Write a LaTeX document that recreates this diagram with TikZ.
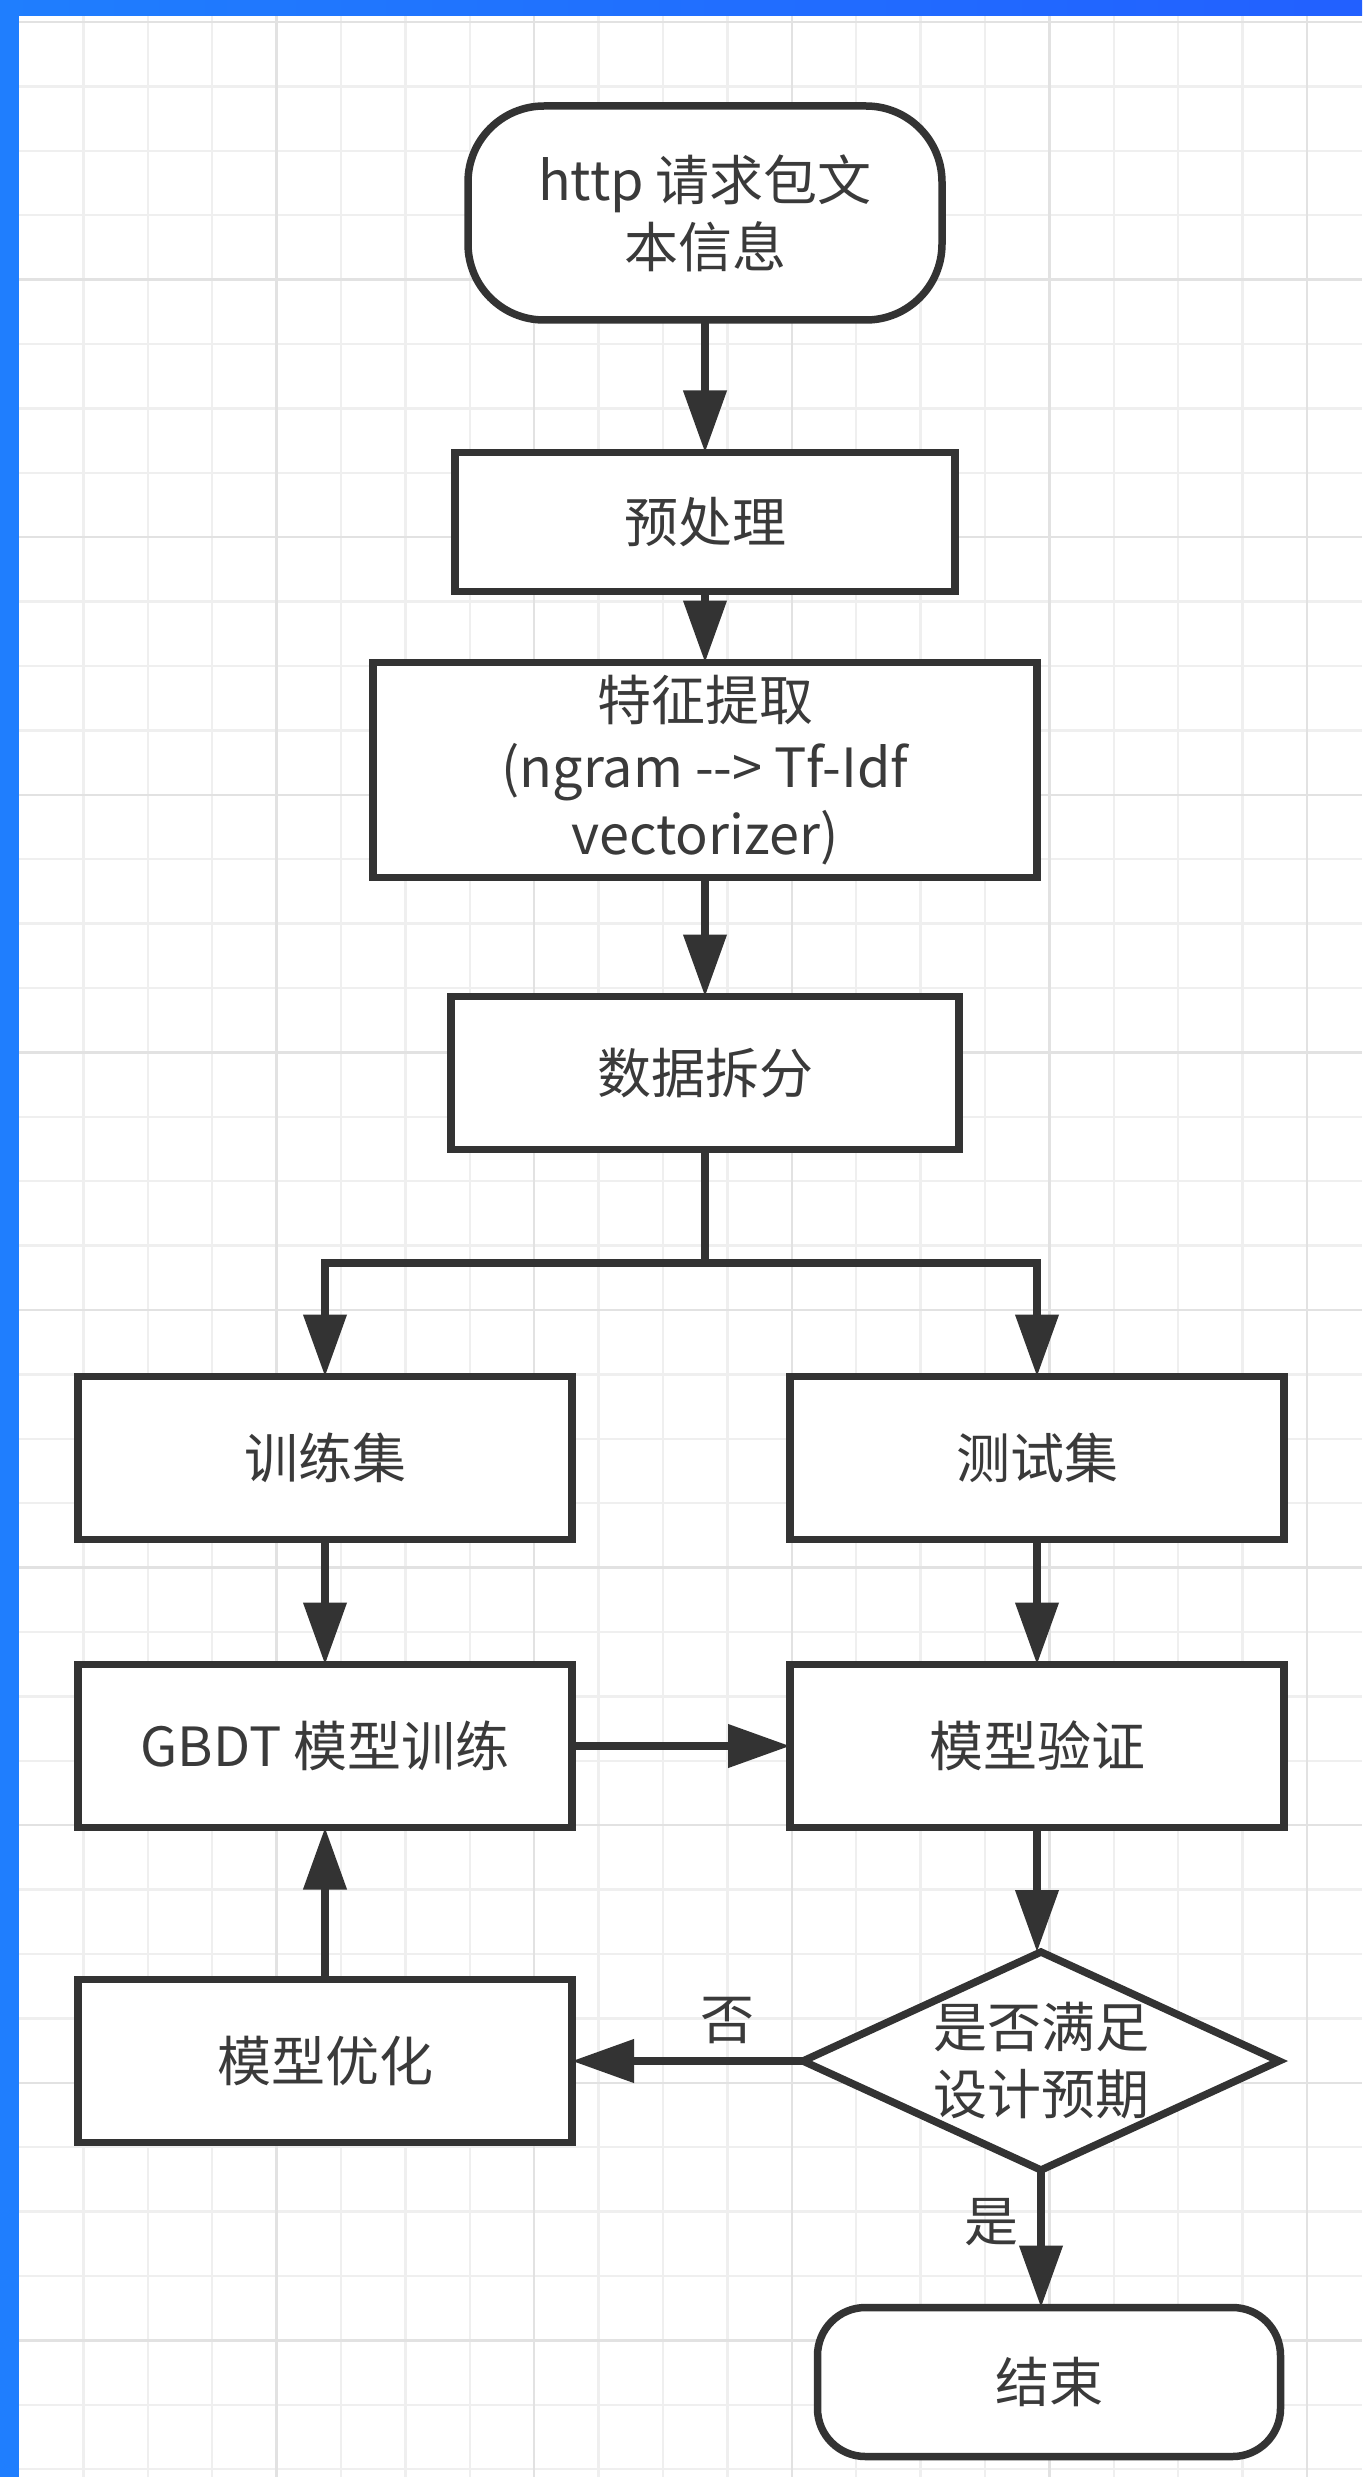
\documentclass[tikz,border=0pt]{standalone}
\usepackage{fontspec}
\setmainfont{Noto Sans CJK SC}
\usetikzlibrary{arrows.meta,shapes.geometric}
\definecolor{linec}{HTML}{333333}
\definecolor{textc}{HTML}{3A3A3A}
\definecolor{gminorc}{HTML}{EFEFEF}
\definecolor{gmajorc}{HTML}{E2E2E2}
\definecolor{blueL}{HTML}{1F7EFE}
\definecolor{blueR}{HTML}{2260FF}
\newcommand\myfs{\fontsize{27pt}{33.5pt}\selectfont}
\tikzset{
  box/.style={draw=linec, line width=3.75pt, fill=white, inner sep=0pt, outer sep=0pt,
    align=center, text=textc, font=\myfs},
  term/.style={box, rounded corners=#1},
  conn/.style={draw=linec, line width=3.75pt},
  arr/.style={conn, -{Triangle[length=31pt,width=21pt]}},
  lbl/.style={text=textc, font=\myfs, inner sep=0pt},
  gminor/.style={draw=gminorc, line width=1.25pt},
  gmajor/.style={draw=gmajorc, line width=1.25pt}
}
\begin{document}
\begin{tikzpicture}[x=0.5pt,y=-0.5pt]
\useasboundingbox (0,0) rectangle (1362,2477);
\fill[white] (0,0) rectangle (1362,2477);
% grid
\foreach \k in {1,...,20} \draw[gminor] ({19+64.4*\k},16) -- ({19+64.4*\k},2477);
\foreach \k in {0,...,38} \draw[gminor] (19,{22+64.4*\k}) -- (1362,{22+64.4*\k});
\foreach \k in {4,8,...,20} \draw[gmajor] ({19+64.4*\k},16) -- ({19+64.4*\k},2477);
\foreach \k in {0,4,...,36} \draw[gmajor] (19,{22+64.4*\k}) -- (1362,{22+64.4*\k});
% blue frame
\shade[left color=blueL, right color=blueR] (0,0) rectangle (1362,16);
\fill[blueL] (0,0) rectangle (19,2477);

% nodes
\node[term=38pt, minimum width=237pt, minimum height=107pt] (start) at (705,213) {http 请求包文\\本信息};
\node[box, minimum width=250pt, minimum height=69.5pt] (pre) at (705,522) {预处理};
\node[box, minimum width=332pt, minimum height=107.5pt] (feat) at (705,770) {特征提取\\(ngram -{}-> Tf-Idf\\vectorizer)};
\node[box, minimum width=254pt, minimum height=76.5pt] (split) at (705,1073) {数据拆分};
\node[box, minimum width=247pt, minimum height=81.5pt] (train) at (325,1458) {训练集};
\node[box, minimum width=247pt, minimum height=81.5pt] (test) at (1037,1458) {测试集};
\node[box, minimum width=247pt, minimum height=81.5pt] (gbdt) at (325,1746) {GBDT 模型训练};
\node[box, minimum width=247pt, minimum height=81.5pt] (valid) at (1037,1746) {模型验证};
\node[box, minimum width=247pt, minimum height=81.5pt] (opt) at (325,2061) {模型优化};
\node[box, diamond, aspect=2.18, minimum width=238pt, minimum height=109pt] (dec) at (1041,2061) {是否满足\\设计预期};
\node[term=24pt, minimum width=231.5pt, minimum height=74.5pt] (end) at (1049,2382) {结束};

% connectors
\draw[arr] (start.south) -- (pre.north);
\draw[arr] (pre.south) -- (feat.north);
\draw[arr] (feat.south) -- (split.north);
\coordinate (j) at (705,1263);
\draw[conn] (split.south) -- (j);
\draw[arr] (j) -| (train.north);
\draw[arr] (j) -| (test.north);
\draw[arr] (train.south) -- (gbdt.north);
\draw[arr] (test.south) -- (valid.north);
\draw[arr] (gbdt.east) -- (valid.west);
\draw[arr] (valid.south) -- (valid.south |- dec.north);
\draw[arr] (dec.west) -- (opt.east);
\draw[arr] (opt.north) -- (gbdt.south);
\draw[arr] (dec.south) -- (dec.south |- end.north);

% labels
\node[lbl] (no) at (727,2020) {否};
\node[lbl] (yes) at (991,2222) {是};
\end{tikzpicture}
\end{document}
